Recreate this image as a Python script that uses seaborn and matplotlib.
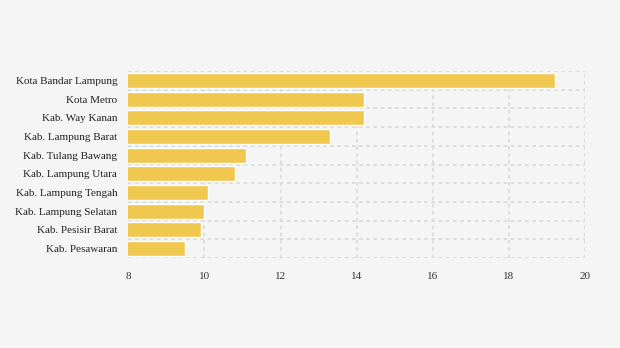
import matplotlib
matplotlib.use("Agg")
import matplotlib.pyplot as plt
import seaborn as sns
import pandas as pd
import numpy as np

categories = ["Kota Bandar Lampung", "Kota Metro", "Kab. Way Kanan", "Kab. Lampung Barat",
              "Kab. Tulang Bawang", "Kab. Lampung Utara", "Kab. Lampung Tengah",
              "Kab. Lampung Selatan", "Kab. Pesisir Barat", "Kab. Pesawaran"]
values = [19.2, 14.2, 14.2, 13.3, 11.1, 10.8, 10.1, 10.0, 9.9, 9.5]
xticks = [8, 10, 12, 14, 16, 18, 20]

sns.set_theme(style="white")
plt.rcParams['font.family'] = ['Liberation Serif', 'DejaVu Serif']

df = pd.DataFrame({"cat": categories, "val": values})

fig = plt.figure(figsize=(6.2, 3.48), dpi=100, facecolor="#f5f5f5")
ax = fig.add_axes([128.3/620, 1 - 258/348, (585 - 128.3)/620, (258 - 71)/348])
ax.set_facecolor("#f5f5f5")

sns.barplot(data=df, x="val", y="cat", color="#f0c850", saturation=1, width=0.8, ax=ax, zorder=2)

ax.set_xlim(8, 20)
ax.set_ylim(len(categories) - 0.5, -0.5)
ax.set_xticks(xticks)
ax.set_xticklabels([str(t) for t in xticks])
ax.set_yticks(np.arange(-0.5, len(categories), 1.0), minor=True)
ax.grid(True, axis="x", which="major", linestyle=(0, (2, 2)), color="#dcdcdc", linewidth=1.3, zorder=0)
ax.grid(True, axis="y", which="minor", linestyle=(0, (2, 2)), color="#dcdcdc", linewidth=1.3, zorder=0)
ax.grid(False, axis="y", which="major")
ax.set_axisbelow(True)
for s in ax.spines.values():
    s.set_visible(False)
ax.tick_params(axis="x", length=0, pad=10, labelsize=8, labelcolor="#333333")
ax.tick_params(axis="y", which="major", length=3, width=1, color="#dddddd", pad=5, labelsize=8, labelcolor="#222222")
ax.tick_params(axis="y", which="minor", length=0)
ax.set_xlabel("")
ax.set_ylabel("")

fig.savefig("out.png", dpi=100, facecolor="#f5f5f5")
